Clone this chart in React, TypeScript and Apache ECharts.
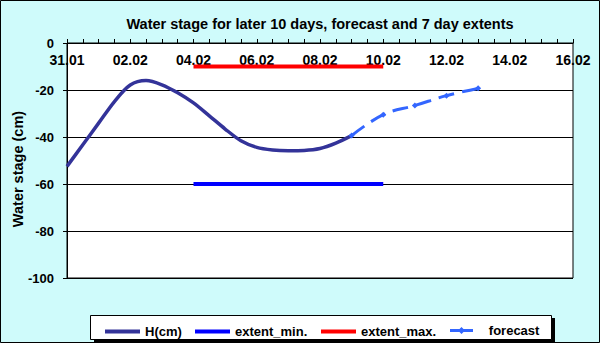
import React, { useEffect, useRef } from "react";
import * as echarts from "echarts";

const titleText = "Water stage for later 10 days, forecast and 7 day extents";
const yAxisName = "Water stage (cm)";
const tickLabels = ["31.01", "02.02", "04.02", "06.02", "08.02", "10.02", "12.02", "14.02", "16.02"];

// observed water stage, every 12 hours
const hTimes = [
  "31.01 00", "31.01 12", "01.02 00", "01.02 12", "02.02 00", "02.02 12", "03.02 00", "03.02 12",
  "04.02 00", "04.02 12", "05.02 00", "05.02 12", "06.02 00", "06.02 12", "07.02 00", "07.02 12",
  "08.02 00", "08.02 12", "09.02 00",
];
const hValues = [
  -52.5, -43.3, -34.1, -24.9, -17.9, -16.0, -17.8, -21.2,
  -25.5, -31.0, -36.6, -41.6, -44.4, -45.5, -45.8, -45.7,
  -44.9, -42.6, -39.4,
];

const forecastTimes = ["09.02 00", "10.02 00", "11.02 00", "12.02 00", "13.02 00"];
const forecastValues = [-39.4, -30.5, -26.6, -22.4, -19.3];

const extentTimes = ["04.02 00", "10.02 00"];
const extentMinValues = [-60, -60];
const extentMaxValues = [-10, -10];

const seriesNames = ["H(cm)", "extent_min.", "extent_max.", "forecast"];

// day offset from 31.01 00h
function dayIndex(s: string): number {
  const [date, hour] = s.split(" ");
  const [d, m] = date.split(".").map(Number);
  return d + (m === 2 ? 31 : 0) - 31 + Number(hour || 0) / 24;
}
function pairs(times: string[], vals: number[]) {
  return times.map((t, i) => [dayIndex(t), vals[i]]);
}

const FONT = 'Arial, "Liberation Sans", sans-serif';

export default function App() {
  const ref = useRef<HTMLDivElement>(null);
  useEffect(() => {
    if (!ref.current) return;
    const chart = echarts.init(ref.current, undefined, { renderer: "svg" });
    const legendBase = {
      top: 320,
      padding: 0,
      itemWidth: 35,
      itemHeight: 4,
      icon: "path://M0,0H35V4H0Z",
      textStyle: { fontFamily: FONT, fontWeight: "bold" as const, fontSize: 13, color: "#000" },
    };
    chart.setOption({
      animation: false,
      backgroundColor: "#cffbfb",
      title: {
        text: titleText,
        left: 320,
        textAlign: "center",
        top: 16,
        padding: 0,
        textStyle: { fontFamily: FONT, fontWeight: "bold", fontSize: 14.5, color: "#000" },
      },
      grid: {
        left: 67,
        right: 27,
        top: 43,
        bottom: 65,
        outerBoundsMode: "none",
        containLabel: false,
        show: true,
        backgroundColor: "#fff",
        borderColor: "#000",
        borderWidth: 1,
      },
      graphic: [
        { type: "rect", shape: { x: 0.5, y: 0.5, width: 599, height: 342 }, style: { fill: "none", stroke: "#000", lineWidth: 1 }, z: 100 },
        { type: "rect", shape: { x: 94, y: 318, width: 461, height: 25 }, style: { fill: "#000" }, z: 0 },
        { type: "rect", shape: { x: 90.5, y: 315.5, width: 461, height: 24 }, style: { fill: "#fff", stroke: "#000", lineWidth: 1 }, z: 1 },
        {
          type: "text",
          x: 18,
          y: 169,
          rotation: Math.PI / 2,
          style: {
            text: yAxisName,
            fontFamily: FONT,
            fontWeight: "bold",
            fontSize: 14.5,
            fill: "#000",
            textAlign: "center",
            textVerticalAlign: "middle",
          },
          z: 10,
        },
      ],
      legend: [
        { ...legendBase, left: 105, top: 325, data: [seriesNames[0]] },
        { ...legendBase, left: 195, top: 325, data: [seriesNames[1]] },
        { ...legendBase, left: 321, top: 325, data: [seriesNames[2]] },
        {
          ...legendBase,
          left: 450,
          top: 324,
          itemWidth: 23,
          itemHeight: 7,
          icon: "path://M0,2H23V5H0Z M11.5,0L15,3.5L11.5,7L8,3.5Z",
          data: [seriesNames[3]],
          formatter: (n: string) => "   " + n,
        },
      ],
      xAxis: {
        type: "value",
        position: "top",
        min: 0,
        max: 16,
        interval: 2,
        axisLine: { show: true, onZero: false, lineStyle: { color: "#000", width: 1 } },
        axisTick: { show: true, length: 4, lineStyle: { color: "#000" } },
        minorTick: { show: true, splitNumber: 4, length: 4, lineStyle: { color: "#000" } },
        splitLine: { show: false },
        axisLabel: {
          inside: true,
          margin: 10,
          showMinLabel: true,
          showMaxLabel: true,
          fontFamily: FONT,
          fontWeight: "bold",
          fontSize: 14,
          color: "#000",
          formatter: (v: number) => tickLabels[Math.round(v / 2)] ?? "",
        },
      },
      yAxis: {
        type: "value",
        min: -100,
        max: 0,
        interval: 20,
        axisLine: { show: true, lineStyle: { color: "#000" } },
        axisTick: { show: true, length: 4, lineStyle: { color: "#000" } },
        splitLine: { show: true, lineStyle: { color: "#000", width: 1 } },
        axisLabel: { margin: 13, fontFamily: FONT, fontWeight: "bold", fontSize: 13, color: "#000" },
      },
      series: [
        {
          name: seriesNames[0],
          type: "line",
          data: pairs(hTimes, hValues),
          smooth: 0.3,
          showSymbol: false,
          symbol: "none",
          lineStyle: { color: "#333399", width: 3.5 },
          itemStyle: { color: "#333399" },
          z: 3,
        },
        {
          name: seriesNames[1],
          type: "line",
          data: pairs(extentTimes, extentMinValues),
          symbol: "none",
          lineStyle: { color: "#0000ff", width: 4 },
          itemStyle: { color: "#0000ff" },
          z: 3,
        },
        {
          name: seriesNames[2],
          type: "line",
          data: pairs(extentTimes, extentMaxValues),
          symbol: "none",
          lineStyle: { color: "#ff0000", width: 4 },
          itemStyle: { color: "#ff0000" },
          z: 3,
        },
        {
          name: seriesNames[3],
          type: "line",
          data: pairs(forecastTimes, forecastValues),
          smooth: 0.4,
          symbol: "diamond",
          symbolSize: 6,
          showSymbol: true,
          lineStyle: { color: "#3366ff", width: 3, type: [16, 8] },
          itemStyle: { color: "#3366ff" },
          z: 4,
        },
      ],
    });
    return () => chart.dispose();
  }, []);
  return (
    <div
      ref={ref}
      style={{ position: "absolute", left: 0, top: 0, width: 600, height: 343 }}
    />
  );
}
